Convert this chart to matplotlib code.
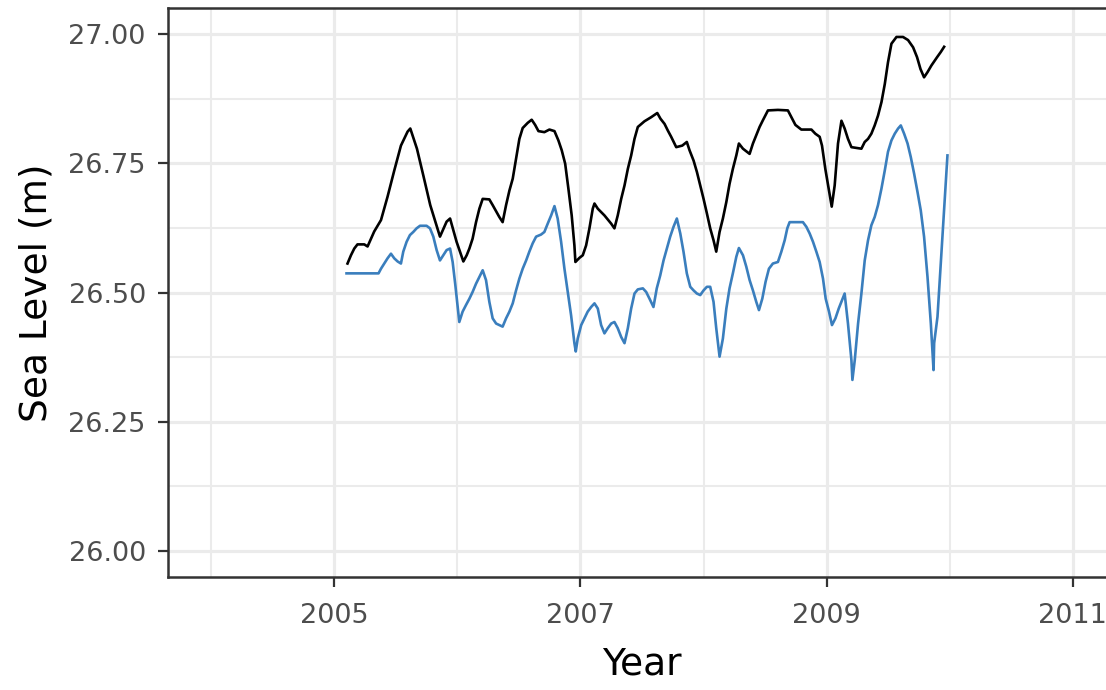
import matplotlib
matplotlib.use("Agg")
import matplotlib.pyplot as plt
import matplotlib.ticker as ticker

# black series (upper line)
years_black = [2005.108, 2005.136, 2005.163, 2005.189, 2005.244, 2005.271, 2005.325, 2005.380,
               2005.433, 2005.488, 2005.542, 2005.596, 2005.618, 2005.672, 2005.726, 2005.780,
               2005.835, 2005.859, 2005.913, 2005.941, 2005.994, 2006.049, 2006.076, 2006.098,
               2006.124, 2006.152, 2006.179, 2006.206, 2006.260, 2006.287, 2006.341, 2006.368,
               2006.396, 2006.423, 2006.450, 2006.477, 2006.504, 2006.531, 2006.572, 2006.604,
               2006.632, 2006.659, 2006.707, 2006.748, 2006.789, 2006.821, 2006.848, 2006.876,
               2006.902, 2006.929, 2006.951, 2006.959, 2006.992, 2007.019, 2007.046, 2007.073,
               2007.100, 2007.114, 2007.141, 2007.195, 2007.250, 2007.276, 2007.303, 2007.331,
               2007.358, 2007.385, 2007.412, 2007.439, 2007.466, 2007.520, 2007.575, 2007.624,
               2007.650, 2007.683, 2007.710, 2007.737, 2007.778, 2007.827, 2007.864, 2007.886,
               2007.919, 2007.946, 2007.973, 2008.000, 2008.027, 2008.054, 2008.081, 2008.103,
               2008.130, 2008.157, 2008.185, 2008.211, 2008.238, 2008.266, 2008.287, 2008.320,
               2008.374, 2008.401, 2008.428, 2008.455, 2008.482, 2008.523, 2008.604, 2008.685,
               2008.718, 2008.746, 2008.794, 2008.876, 2008.908, 2008.943, 2008.962, 2008.989,
               2009.016, 2009.041, 2009.065, 2009.092, 2009.120, 2009.146, 2009.173, 2009.201,
               2009.282, 2009.309, 2009.336, 2009.363, 2009.390, 2009.417, 2009.445, 2009.472,
               2009.498, 2009.526, 2009.567, 2009.620, 2009.661, 2009.702, 2009.734, 2009.762,
               2009.791, 2009.819, 2009.851, 2009.897, 2009.927, 2009.954]
level_black = [26.556, 26.572, 26.585, 26.593, 26.593, 26.589, 26.618, 26.640,
               26.685, 26.736, 26.784, 26.811, 26.817, 26.778, 26.724, 26.669,
               26.627, 26.608, 26.637, 26.643, 26.598, 26.560, 26.572, 26.585,
               26.604, 26.636, 26.662, 26.681, 26.680, 26.669, 26.646, 26.636,
               26.669, 26.697, 26.720, 26.759, 26.797, 26.818, 26.828, 26.834,
               26.824, 26.812, 26.810, 26.815, 26.812, 26.794, 26.775, 26.749,
               26.701, 26.649, 26.591, 26.559, 26.567, 26.572, 26.591, 26.624,
               26.662, 26.672, 26.662, 26.649, 26.633, 26.624, 26.649, 26.681,
               26.707, 26.739, 26.765, 26.797, 26.820, 26.831, 26.839, 26.847,
               26.836, 26.826, 26.813, 26.801, 26.781, 26.784, 26.791, 26.775,
               26.755, 26.733, 26.707, 26.681, 26.653, 26.624, 26.601, 26.579,
               26.617, 26.643, 26.675, 26.710, 26.739, 26.765, 26.788, 26.778,
               26.768, 26.788, 26.804, 26.820, 26.833, 26.852, 26.853, 26.852,
               26.837, 26.824, 26.815, 26.815, 26.807, 26.801, 26.784, 26.739,
               26.701, 26.666, 26.707, 26.788, 26.832, 26.817, 26.797, 26.781,
               26.778, 26.791, 26.797, 26.807, 26.823, 26.842, 26.868, 26.903,
               26.945, 26.981, 26.994, 26.994, 26.988, 26.974, 26.955, 26.932,
               26.916, 26.926, 26.939, 26.955, 26.965, 26.975]

# blue series (lower line)
years_blue = [2005.100, 2005.360, 2005.380, 2005.407, 2005.433, 2005.461, 2005.488, 2005.515,
              2005.542, 2005.561, 2005.588, 2005.615, 2005.642, 2005.669, 2005.697, 2005.750,
              2005.778, 2005.805, 2005.832, 2005.859, 2005.886, 2005.913, 2005.941, 2005.962,
              2005.984, 2006.016, 2006.043, 2006.071, 2006.098, 2006.124, 2006.152, 2006.179,
              2006.206, 2006.233, 2006.260, 2006.287, 2006.315, 2006.341, 2006.368, 2006.396,
              2006.423, 2006.450, 2006.477, 2006.504, 2006.531, 2006.559, 2006.585, 2006.612,
              2006.640, 2006.680, 2006.707, 2006.734, 2006.762, 2006.789, 2006.815, 2006.843,
              2006.870, 2006.897, 2006.924, 2006.951, 2006.962, 2006.978, 2007.006, 2007.033,
              2007.059, 2007.087, 2007.114, 2007.141, 2007.168, 2007.195, 2007.222, 2007.250,
              2007.276, 2007.303, 2007.331, 2007.358, 2007.385, 2007.412, 2007.439, 2007.466,
              2007.507, 2007.534, 2007.561, 2007.593, 2007.620, 2007.648, 2007.675, 2007.702,
              2007.729, 2007.756, 2007.783, 2007.811, 2007.837, 2007.864, 2007.892, 2007.919,
              2007.946, 2007.973, 2008.000, 2008.027, 2008.054, 2008.081, 2008.103, 2008.130,
              2008.157, 2008.185, 2008.211, 2008.238, 2008.266, 2008.287, 2008.320, 2008.347,
              2008.374, 2008.401, 2008.428, 2008.450, 2008.477, 2008.504, 2008.531, 2008.563,
              2008.604, 2008.632, 2008.659, 2008.680, 2008.699, 2008.807, 2008.835, 2008.862,
              2008.889, 2008.916, 2008.943, 2008.970, 2008.992, 2009.019, 2009.043, 2009.071,
              2009.098, 2009.124, 2009.146, 2009.173, 2009.201, 2009.209, 2009.228, 2009.255,
              2009.282, 2009.309, 2009.336, 2009.363, 2009.390, 2009.417, 2009.445, 2009.472,
              2009.498, 2009.526, 2009.553, 2009.580, 2009.602, 2009.629, 2009.657, 2009.683,
              2009.710, 2009.738, 2009.764, 2009.791, 2009.819, 2009.846, 2009.868, 2009.873,
              2009.900, 2009.927, 2009.954, 2009.981]
level_blue = [26.537, 26.537, 26.546, 26.556, 26.566, 26.575, 26.566, 26.560,
              26.556, 26.579, 26.598, 26.611, 26.617, 26.624, 26.629, 26.629,
              26.624, 26.608, 26.582, 26.562, 26.572, 26.582, 26.585, 26.559,
              26.514, 26.443, 26.463, 26.476, 26.488, 26.501, 26.517, 26.530,
              26.543, 26.524, 26.482, 26.450, 26.440, 26.437, 26.434, 26.450,
              26.463, 26.479, 26.504, 26.527, 26.546, 26.562, 26.579, 26.595,
              26.608, 26.612, 26.617, 26.633, 26.649, 26.667, 26.643, 26.598,
              26.546, 26.501, 26.456, 26.402, 26.386, 26.411, 26.437, 26.450,
              26.463, 26.472, 26.479, 26.469, 26.437, 26.421, 26.431, 26.440,
              26.443, 26.431, 26.414, 26.402, 26.431, 26.469, 26.498, 26.506,
              26.508, 26.501, 26.488, 26.472, 26.508, 26.533, 26.562, 26.585,
              26.608, 26.627, 26.643, 26.614, 26.579, 26.537, 26.511, 26.504,
              26.498, 26.495, 26.504, 26.511, 26.511, 26.482, 26.431, 26.376,
              26.411, 26.469, 26.508, 26.537, 26.569, 26.586, 26.572, 26.550,
              26.524, 26.504, 26.482, 26.466, 26.488, 26.521, 26.546, 26.556,
              26.559, 26.579, 26.601, 26.624, 26.636, 26.636, 26.627, 26.614,
              26.598, 26.579, 26.559, 26.527, 26.488, 26.463, 26.437, 26.450,
              26.469, 26.485, 26.498, 26.440, 26.369, 26.331, 26.369, 26.440,
              26.498, 26.562, 26.601, 26.630, 26.646, 26.669, 26.701, 26.736,
              26.772, 26.794, 26.807, 26.817, 26.823, 26.807, 26.788, 26.762,
              26.730, 26.694, 26.659, 26.608, 26.530, 26.440, 26.350, 26.402,
              26.453, 26.556, 26.659, 26.765]

x_major = [2005, 2007, 2009, 2011]
x_minor = [2004, 2006, 2008, 2010]
y_major = [26.00, 26.25, 26.50, 26.75, 27.00]
y_minor = [26.125, 26.375, 26.625, 26.875]

W, H = 1106, 690
fig = plt.figure(figsize=(W / 100, H / 100), dpi=100)
# panel runs off the right edge in the reference
ax = fig.add_axes([168 / W, (H - 577) / H, (1116 - 168) / W, (577 - 8) / H])

ax.plot(years_black, level_black, color="black", lw=1.9, zorder=3)
ax.plot(years_blue, level_blue, color="#3a7ebd", lw=1.9, zorder=3)

ax.set_xlim(2003.65, 2011.35)
ax.set_ylim(25.95, 27.05)
ax.set_xticks(x_major)
ax.set_xticks(x_minor, minor=True)
ax.set_yticks(y_major)
ax.set_yticks(y_minor, minor=True)
ax.yaxis.set_major_formatter(ticker.FormatStrFormatter("%.2f"))

ax.grid(True, which="major", color="#ebebeb", lw=2.3, zorder=0)
ax.grid(True, which="minor", color="#ebebeb", lw=1.5, zorder=0)
ax.set_axisbelow(True)

for s in ax.spines.values():
    s.set_color("#333333")
    s.set_linewidth(1.8)

ax.tick_params(which="major", length=7, width=1.6, color="#333333",
               labelcolor="#4d4d4d", labelsize=19.5)
ax.tick_params(which="minor", length=0)
ax.tick_params(axis="x", pad=12)
ax.tick_params(axis="y", pad=9)

ax.set_xlabel("Year", fontsize=27, labelpad=12)
ax.set_ylabel("Sea Level (m)", fontsize=27, labelpad=10)

fig.savefig("out.png", dpi=100)
